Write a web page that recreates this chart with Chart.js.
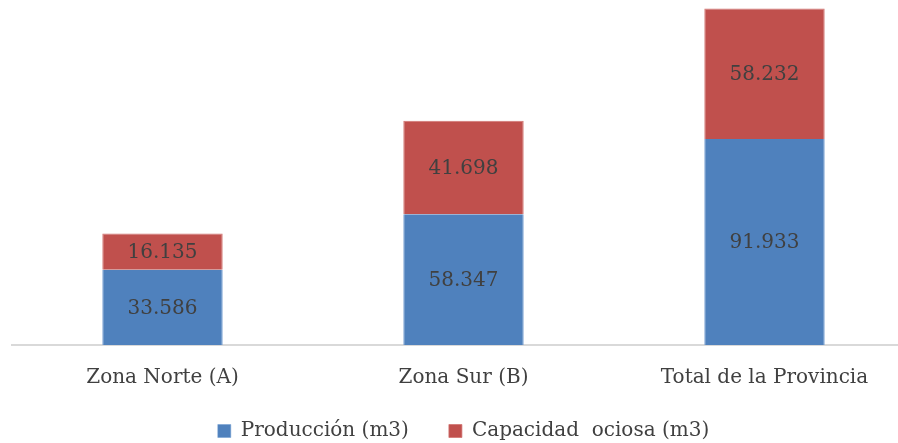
<!DOCTYPE html>
<html><head><meta charset="utf-8">
<script src="https://cdn.jsdelivr.net/npm/chart.js@4"></script>
<style>html,body{margin:0;padding:0;overflow:hidden;background:#fff}#wrap{width:915px;height:443px;overflow:hidden}</style>
</head><body><div id="wrap"><canvas id="c" width="915" height="481"></canvas></div>
<script>
const categories = ["Zona Norte (A)", "Zona Sur (B)", "Total de la Provincia"];
const produccion = [33586, 58347, 91933];
const capacidadOciosa = [16135, 41698, 58232];
const seriesNames = ["Producción (m3)", "Capacidad  ociosa (m3)"];

const FONT = "'DejaVu Serif', serif";
const fmt = v => v.toLocaleString('de-DE');

const labelPlugin = {
  id: 'inlabels',
  afterLayout(chart) {
    const lg = chart.legend;
    if (lg) { lg.top -= 30; lg.bottom -= 30; }
  },
  afterDatasetsDraw(chart) {
    const ctx = chart.ctx;
    ctx.save();
    ctx.font = "20px " + FONT;
    ctx.fillStyle = '#404040';
    ctx.textAlign = 'center';
    ctx.textBaseline = 'middle';
    chart.data.datasets.forEach((ds, i) => {
      chart.getDatasetMeta(i).data.forEach((bar, j) => {
        const y = (bar.y + bar.base) / 2;
        ctx.fillText(fmt(ds.data[j]), bar.x, y + 1);
      });
    });
    ctx.restore();
  }
};

new Chart(document.getElementById('c'), {
  type: 'bar',
  data: {
    labels: categories,
    datasets: [
      { label: seriesNames[0], data: produccion, backgroundColor: '#4f81bd', borderColor: '#6f9bd0', borderWidth: {left:1,right:1,top:0,bottom:0} },
      { label: seriesNames[1], data: capacidadOciosa, backgroundColor: '#c0504d', borderColor: '#d27370', borderWidth: {left:1,right:1,top:1,bottom:0} }
    ]
  },
  options: {
    responsive: false,
    animation: false,
    layout: { padding: { left: 12, right: 0, top: 0, bottom: 0 } },
    datasets: { bar: { barPercentage: 1, categoryPercentage: 0.4 } },
    scales: {
      x: {
        stacked: true,
        grid: { display: false, drawTicks: false },
        border: { color: '#d9d9d9', width: 2 },
        ticks: { color: '#404040', font: { family: FONT, size: 20 }, padding: 21 }
      },
      y: {
        stacked: true,
        display: false,
        min: 0, max: 154000
      }
    },
    plugins: {
      legend: {
        position: 'bottom',
        labels: { color: '#404040', font: { family: FONT, size: 20 }, boxWidth: 13, boxHeight: 13, padding: 40 }
      },
      tooltip: { enabled: false }
    }
  },
  plugins: [labelPlugin]
});
</script></body></html>
